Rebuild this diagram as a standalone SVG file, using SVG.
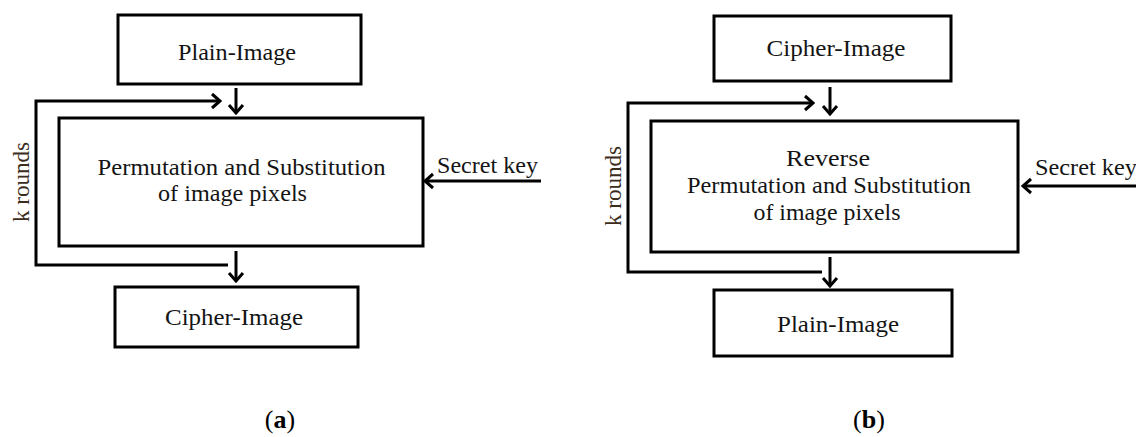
<svg xmlns="http://www.w3.org/2000/svg" width="1136" height="437" viewBox="0 0 1136 437">
<style>
.box{fill:#fff;stroke:#000;stroke-width:3}
.ln{fill:none;stroke:#000;stroke-width:3}
.t{font-family:"Liberation Serif","Times New Roman",serif;font-size:23px;fill:#141414}
.m{text-anchor:middle}
.k{font-family:"Liberation Serif","Times New Roman",serif;font-size:23px;fill:#3b2c1c;text-anchor:middle}
.cap{font-family:"Liberation Serif","Times New Roman",serif;font-size:26px;fill:#000;text-anchor:middle}
</style>
<defs>
<marker id="arr" viewBox="0 0 12 18" refX="10" refY="9" markerWidth="12" markerHeight="18" markerUnits="userSpaceOnUse" orient="auto">
<path d="M2,2 L10,9 L2,16" fill="none" stroke="#000" stroke-width="3"/>
</marker>
</defs>
<rect width="1136" height="437" fill="#fff"/>

<g id="connectors">
<path class="ln" d="M236,88 L236,113" marker-end="url(#arr)"/>
<path class="ln" d="M228,265 L36,265 L36,101 L220,101" marker-end="url(#arr)"/>
<path class="ln" d="M236,251 L236,281" marker-end="url(#arr)"/>
<path class="ln" d="M541,181 L425,181" marker-end="url(#arr)"/>
<path class="ln" d="M830,87 L830,114" marker-end="url(#arr)"/>
<path class="ln" d="M822,272 L628,272 L628,103 L813,103" marker-end="url(#arr)"/>
<path class="ln" d="M830,257 L830,286" marker-end="url(#arr)"/>
<path class="ln" d="M1136,186 L1023,186" marker-end="url(#arr)"/>
</g>

<g id="a-plain">
<rect class="box" x="118" y="15" width="243" height="69"/>
<text class="t m" x="237" y="60" textLength="118" lengthAdjust="spacingAndGlyphs">Plain-Image</text>
</g>
<g id="a-process">
<rect class="box" x="59" y="118" width="364" height="128"/>
<text class="t m" x="241.5" y="175" textLength="288" lengthAdjust="spacingAndGlyphs">Permutation and Substitution</text>
<text class="t m" x="232.5" y="201" textLength="149" lengthAdjust="spacingAndGlyphs">of image pixels</text>
</g>
<g id="a-cipher">
<rect class="box" x="115" y="287" width="243" height="60"/>
<text class="t m" x="234" y="325" textLength="138" lengthAdjust="spacingAndGlyphs">Cipher-Image</text>
</g>
<g id="a-key">
<text class="t" x="437" y="173" textLength="101" lengthAdjust="spacingAndGlyphs">Secret key</text>
</g>
<g id="a-rounds">
<text class="k" transform="translate(29,182) rotate(-90)" textLength="80" lengthAdjust="spacingAndGlyphs">k rounds</text>
</g>
<g id="a-caption">
<text class="cap" x="280" y="428">(<tspan font-weight="bold">a</tspan>)</text>
</g>

<g id="b-cipher">
<rect class="box" x="714" y="16" width="237" height="65"/>
<text class="t m" x="836" y="56" textLength="139" lengthAdjust="spacingAndGlyphs">Cipher-Image</text>
</g>
<g id="b-process">
<rect class="box" x="651" y="121" width="367" height="131"/>
<text class="t m" x="828" y="166" textLength="84" lengthAdjust="spacingAndGlyphs">Reverse</text>
<text class="t m" x="829" y="193" textLength="284" lengthAdjust="spacingAndGlyphs">Permutation and Substitution</text>
<text class="t m" x="827" y="220" textLength="147" lengthAdjust="spacingAndGlyphs">of image pixels</text>
</g>
<g id="b-plain">
<rect class="box" x="714" y="290" width="238" height="66"/>
<text class="t m" x="838" y="332" textLength="122" lengthAdjust="spacingAndGlyphs">Plain-Image</text>
</g>
<g id="b-key">
<text class="t" x="1035" y="175" textLength="102" lengthAdjust="spacingAndGlyphs">Secret key</text>
</g>
<g id="b-rounds">
<text class="k" transform="translate(621,186) rotate(-90)" textLength="80" lengthAdjust="spacingAndGlyphs">k rounds</text>
</g>
<g id="b-caption">
<text class="cap" x="869" y="428">(<tspan font-weight="bold">b</tspan>)</text>
</g>
</svg>
